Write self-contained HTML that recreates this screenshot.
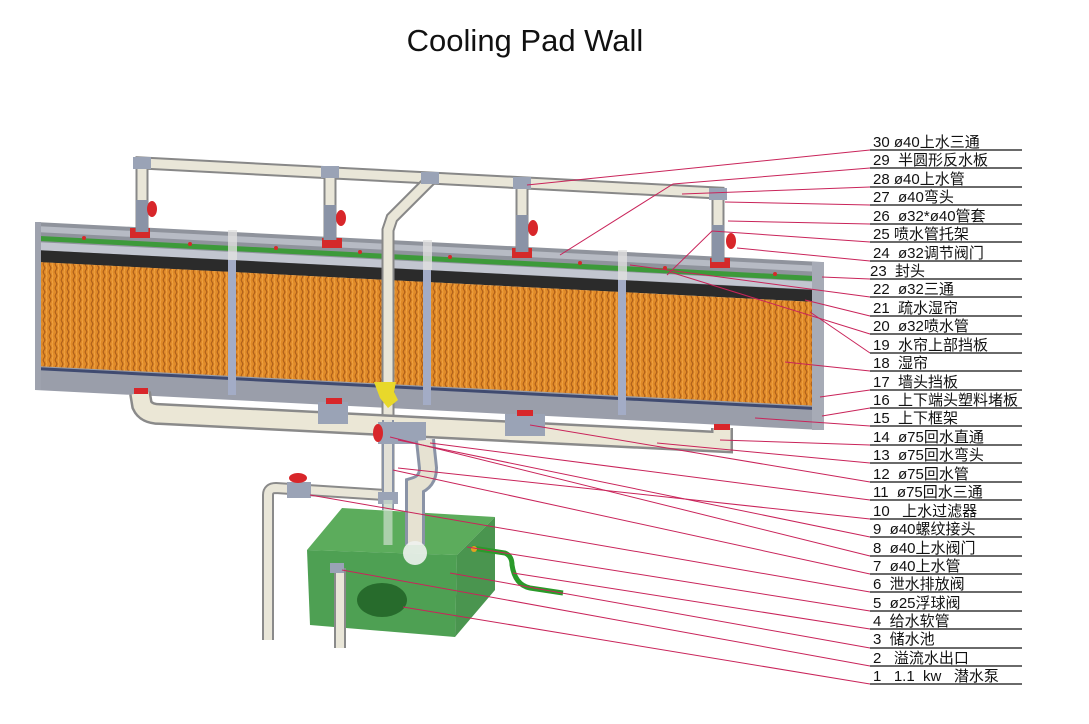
<!DOCTYPE html>
<html><head><meta charset="utf-8"><style>
html,body{margin:0;padding:0;background:#fff;}
svg{display:block;}
.t{font-family:"Liberation Sans","Noto Sans CJK SC",sans-serif;font-size:15px;fill:#111;}
</style></head><body>
<svg width="1089" height="724" viewBox="0 0 1089 724" xmlns="http://www.w3.org/2000/svg">
<defs>
<pattern id="pad" width="6" height="8" patternUnits="userSpaceOnUse">
<rect width="6" height="8" fill="#e08a28"/>
<path d="M1 0 L3 4 L1 8" stroke="#a85a18" stroke-width="1" fill="none"/>
<path d="M4 0 L5 4 L4 8" stroke="#f2a848" stroke-width="0.8" fill="none"/>
</pattern>
</defs>
<text x="525" y="51" text-anchor="middle" style="font-family:'Liberation Sans',sans-serif;font-size:31px;fill:#111">Cooling Pad Wall</text>

<polygon points="35,222 822,262 822,292 35,252" fill="#8f939c"/>
<polygon points="35,226 822,266 822,272 35,232" fill="#b7bbc4"/>
<polygon points="40,236 815,276 815,281 40,241" fill="#3d9a3a"/>
<polygon points="35,242 822,282 822,290 35,250" fill="#c2c6d0"/>
<polygon points="35,250 815,290 815,302 35,262" fill="#2b2b2b"/>
<polygon points="38,262 815,302 815,408 38,368" fill="url(#pad)"/>
<polygon points="35,366 822,406 822,430 35,390" fill="#9a9eaa"/>
<polygon points="35,367 815,407 815,410 35,370" fill="#3f4a70"/>
<rect x="35" y="222" width="6" height="168" fill="#9ea2ae"/>
<polygon points="812,262 824,262 824,430 812,430" fill="#a7abb6"/>
<g fill="#a3acc6">
<polygon points="228,260 236,260 236,395 228,395"/>
<polygon points="423,270 431,270 431,405 423,405"/>
<polygon points="618,280 626,280 626,415 618,415"/>
</g>
<g fill="#e0e0e0" opacity="0.8">
<rect x="228" y="230" width="9" height="30"/><rect x="423" y="240" width="9" height="30"/><rect x="618" y="250" width="9" height="30"/>
</g>
<g fill="#d42a2a">
<rect x="130" y="228" width="20" height="10"/><rect x="322" y="238" width="20" height="10"/><rect x="512" y="248" width="20" height="10"/><rect x="710" y="258" width="20" height="10"/>
<circle cx="84" cy="238" r="2"/><circle cx="190" cy="244" r="2"/><circle cx="276" cy="248" r="2"/><circle cx="360" cy="252" r="2"/><circle cx="450" cy="257" r="2"/><circle cx="580" cy="263" r="2"/><circle cx="665" cy="268" r="2"/><circle cx="775" cy="274" r="2"/>
</g>

<g fill="none" stroke-linecap="butt">
<path d="M142,232 L142,163 L430,178 L718,193 L718,262 M330,240 L330,172 M522,252 L522,183" stroke="#888" stroke-width="13"/>
<path d="M142,232 L142,163 L430,178 L718,193 L718,262 M330,240 L330,172 M522,252 L522,183" stroke="#e9e6d8" stroke-width="9"/>
<path d="M142,200 L142,232 M330,205 L330,240 M522,215 L522,252 M718,225 L718,262" stroke="#8a93a6" stroke-width="12"/>
<path d="M432,178 L392,218 L388,230 L388,500" stroke="#888" stroke-width="13"/>
<path d="M432,178 L392,218 L388,230 L388,500" stroke="#e9e6d8" stroke-width="9"/>
</g>
<g fill="#9aa3b6"><rect x="133" y="157" width="18" height="12"/><rect x="321" y="166" width="18" height="12"/><rect x="421" y="172" width="18" height="12"/><rect x="513" y="177" width="18" height="12"/><rect x="709" y="188" width="18" height="12"/></g>
<g fill="#d8262a"><ellipse cx="152" cy="209" rx="5" ry="8"/><ellipse cx="341" cy="218" rx="5" ry="8"/><ellipse cx="533" cy="228" rx="5" ry="8"/><ellipse cx="731" cy="241" rx="5" ry="8"/></g>

<g fill="none">
<path d="M140,393 L142,405 Q146,414 160,414 L722,442 L722,428" stroke="#8a8a8a" stroke-width="22"/>
<path d="M140,393 L142,405 Q146,414 160,414 L722,442 L722,428" stroke="#ebe7d6" stroke-width="17"/>
<path d="M268,640 L268,495 Q268,488 276,488 L385,495" stroke="#8a8a8a" stroke-width="12"/>
<path d="M268,640 L268,495 Q268,488 276,488 L385,495" stroke="#e9e6d8" stroke-width="8"/>
<path d="M388,420 L388,510" stroke="#8a93a6" stroke-width="12"/>
<path d="M388,420 L388,510" stroke="#e2e0d6" stroke-width="8"/>
</g>
<g fill="#9aa3b6"><rect x="318" y="402" width="30" height="22"/><rect x="505" y="414" width="40" height="22"/><rect x="378" y="422" width="48" height="22"/><rect x="287" y="482" width="24" height="16"/><rect x="378" y="492" width="20" height="12"/></g>
<g fill="#d8262a"><rect x="134" y="388" width="14" height="6"/><rect x="326" y="398" width="16" height="6"/><rect x="517" y="410" width="16" height="6"/><rect x="714" y="424" width="16" height="6"/><ellipse cx="378" cy="433" rx="5" ry="9"/><ellipse cx="298" cy="478" rx="9" ry="5"/></g>
<polygon points="374,382 396,382 394,392 398,400 388,408 380,398" fill="#e8d82a"/>

<polygon points="307,550 342,508 495,517 457,555" fill="#3f9d3f" opacity="0.85"/>
<polygon points="307,550 457,555 455,637 310,625" fill="#2f8f35" opacity="0.85"/>
<polygon points="457,555 495,517 495,590 455,637" fill="#2a8230" opacity="0.85"/>
<g fill="none">
<path d="M425,440 L428,468 Q428,482 415,486 L415,545" stroke="#8a93a6" stroke-width="20"/>
<path d="M425,440 L428,468 Q428,482 415,486 L415,545" stroke="#e6e2d2" stroke-width="14"/>
<path d="M388,500 L388,545" stroke="#cfe0cf" stroke-width="9" opacity="0.7"/>
<path d="M340,648 L340,568" stroke="#8a8a8a" stroke-width="12"/>
<path d="M340,648 L340,568" stroke="#e9e6d8" stroke-width="8"/>
</g>
<rect x="330" y="563" width="14" height="10" fill="#9aa3b6"/>
<ellipse cx="382" cy="600" rx="25" ry="17" fill="#276b2c"/>
<circle cx="415" cy="553" r="12" fill="#eef2ee" opacity="0.9"/>
<path d="M472,548 L505,553 Q512,556 512,565 Q515,585 530,588 L563,593" fill="none" stroke="#2a9a2a" stroke-width="5"/>
<circle cx="474" cy="549" r="3" fill="#e3a020"/>

<g stroke="#c9245a" stroke-width="1" fill="none">
<path d="M870,150 L527,185"/><path d="M870,168 L673,184 L560,255"/><path d="M870,187 L682,194"/><path d="M870,205 L725,202"/>
<path d="M870,224 L728,221"/><path d="M870,242 L712,231 L667,275"/><path d="M870,261 L737,248"/><path d="M870,279 L822,277"/>
<path d="M870,297 L630,265"/><path d="M870,316 L805,300"/><path d="M870,334 L670,272"/><path d="M870,353 L810,312"/>
<path d="M870,371 L785,362"/><path d="M870,390 L820,397"/><path d="M870,408 L822,416"/><path d="M870,426 L755,418"/>
<path d="M870,445 L720,440"/><path d="M870,463 L657,443"/><path d="M870,482 L530,425"/><path d="M870,500 L430,443"/>
<path d="M870,519 L398,468"/><path d="M870,537 L398,440"/><path d="M870,556 L390,437"/><path d="M870,574 L393,470"/>
<path d="M870,592 L310,495"/><path d="M870,611 L467,547"/><path d="M870,629 L513,573"/><path d="M870,648 L450,573"/>
<path d="M870,666 L342,570"/><path d="M870,684 L403,607"/>
</g>
<g stroke="#111" stroke-width="1.2">
<path d="M870,150H1022M870,168H1022M870,187H1022M870,205H1022M870,224H1022M870,242H1022M870,261H1022M870,279H1022M870,297H1022M870,316H1022M870,334H1022M870,353H1022M870,371H1022M870,390H1022M870,408H1022M870,426H1022M870,445H1022M870,463H1022M870,482H1022M870,500H1022M870,519H1022M870,537H1022M870,556H1022M870,574H1022M870,592H1022M870,611H1022M870,629H1022M870,648H1022M870,666H1022M870,684H1022"/>
</g>
<g class="t">
<text x="873" y="147">30 ø40上水三通</text>
<text x="873" y="165">29 &#160;半圆形反水板</text>
<text x="873" y="184">28 ø40上水管</text>
<text x="873" y="202">27 &#160;ø40弯头</text>
<text x="873" y="221">26 &#160;ø32*ø40管套</text>
<text x="873" y="239">25 喷水管托架</text>
<text x="873" y="258">24 &#160;ø32调节阀门</text>
<text x="870" y="276">23 &#160;封头</text>
<text x="873" y="294">22 &#160;ø32三通</text>
<text x="873" y="313">21 &#160;疏水湿帘</text>
<text x="873" y="331">20 &#160;ø32喷水管</text>
<text x="873" y="350">19 &#160;水帘上部挡板</text>
<text x="873" y="368">18 &#160;湿帘</text>
<text x="873" y="387">17 &#160;墙头挡板</text>
<text x="873" y="405">16 &#160;上下端头塑料堵板</text>
<text x="873" y="423">15 &#160;上下框架</text>
<text x="873" y="442">14 &#160;ø75回水直通</text>
<text x="873" y="460">13 &#160;ø75回水弯头</text>
<text x="873" y="479">12 &#160;ø75回水管</text>
<text x="873" y="497">11 &#160;ø75回水三通</text>
<text x="873" y="516">10 &#160;&#160;上水过滤器</text>
<text x="873" y="534">9 &#160;ø40螺纹接头</text>
<text x="873" y="553">8 &#160;ø40上水阀门</text>
<text x="873" y="571">7 &#160;ø40上水管</text>
<text x="873" y="589">6 &#160;泄水排放阀</text>
<text x="873" y="608">5 &#160;ø25浮球阀</text>
<text x="873" y="626">4 &#160;给水软管</text>
<text x="873" y="644">3 &#160;储水池</text>
<text x="873" y="663">2 &#160;&#160;溢流水出口</text>
<text x="873" y="681">1 &#160;&#160;1.1 &#160;kw &#160;&#160;潜水泵</text>
</g>
</svg>
</body></html>
